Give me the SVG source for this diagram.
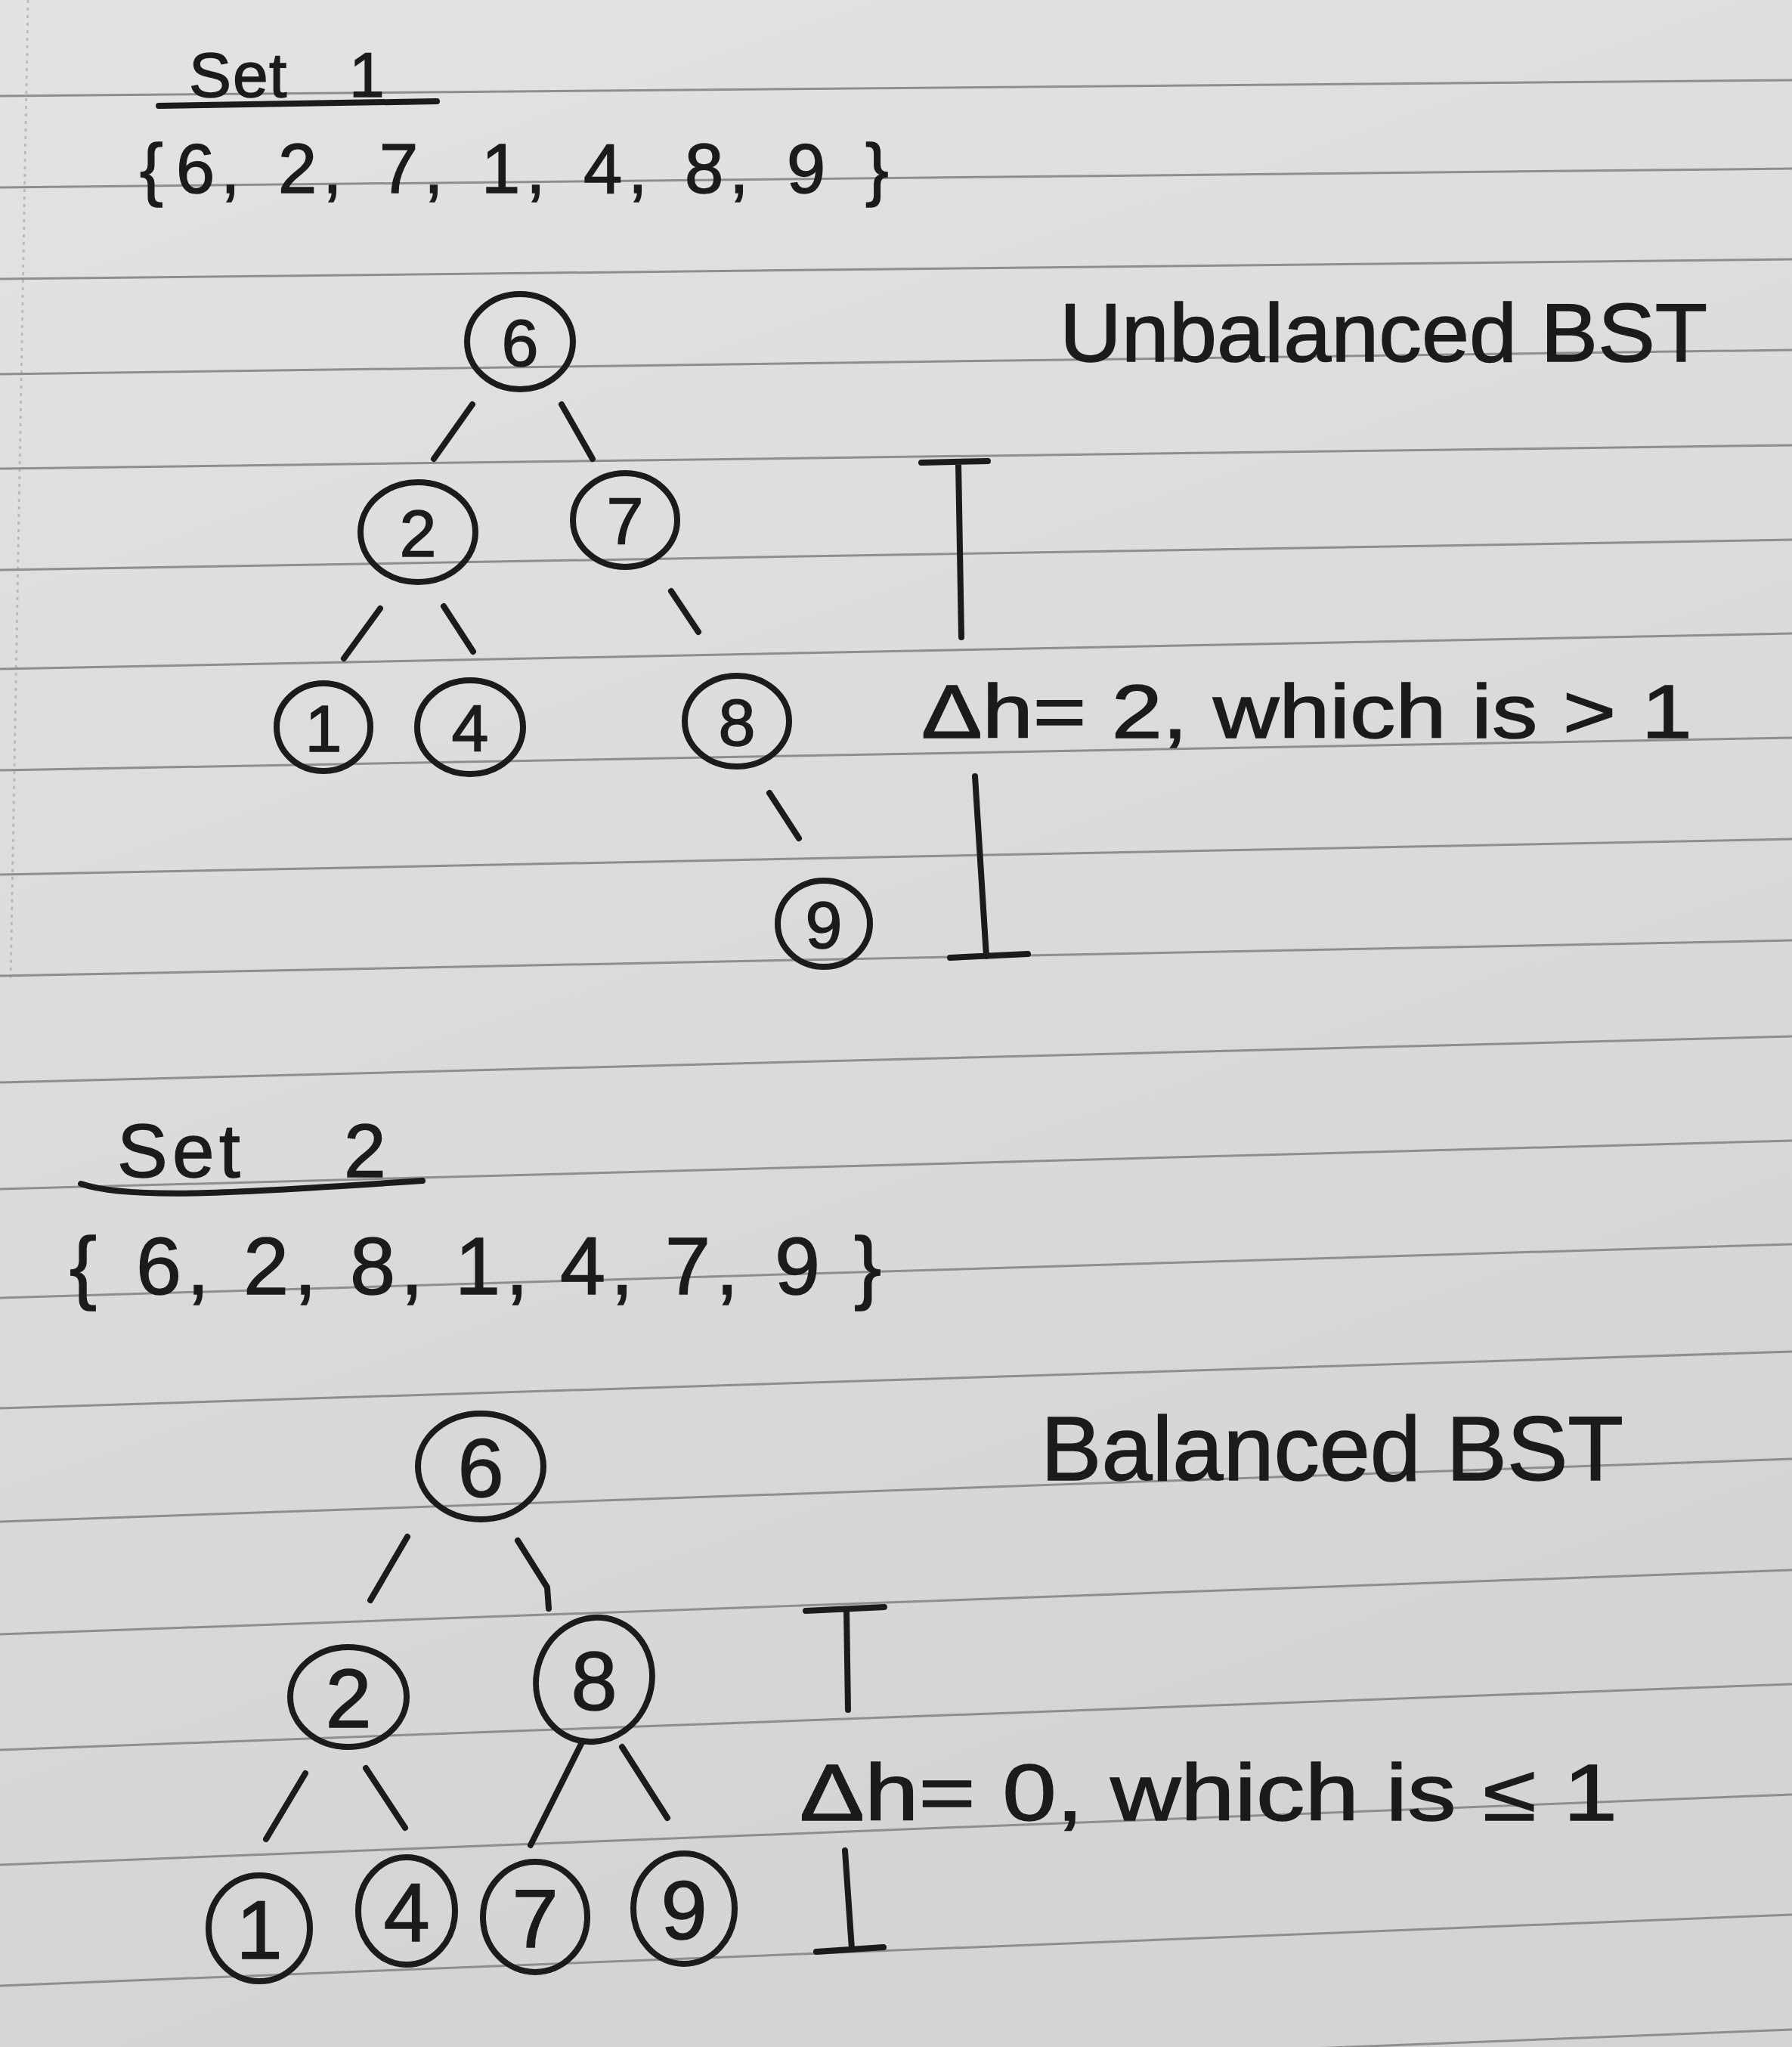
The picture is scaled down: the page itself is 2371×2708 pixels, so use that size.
<svg xmlns="http://www.w3.org/2000/svg" width="2371" height="2708" viewBox="0 0 2371 2708">
<defs>
<linearGradient id="paper" x1="0" y1="0" x2="0.3" y2="1">
<stop offset="0" stop-color="#e3e3e3"/>
<stop offset="1" stop-color="#d4d4d4"/>
</linearGradient>
<style>
.rule{stroke:#8e8e8e;stroke-width:3;fill:none}
.ink{stroke:#1b1b1b;stroke-width:8;stroke-linecap:round;stroke-linejoin:round;fill:none}
.node{stroke:#1b1b1b;stroke-width:8;fill:none}
.txt{font-family:"Liberation Sans",Arial,sans-serif;fill:#1b1b1b;stroke:#1b1b1b;stroke-width:1.5}
.d1{font-size:88px;text-anchor:middle}
.d2{font-size:110px;text-anchor:middle}
</style>
</defs>
<rect x="0" y="0" width="2371" height="2708" fill="url(#paper)"/>
<g id="paper-rules">
<line class="rule" x1="37" y1="0" x2="14" y2="1300" stroke-dasharray="4 6" opacity="0.45"/>
<line class="rule" x1="0" y1="127" x2="2371" y2="106"/>
<line class="rule" x1="0" y1="248" x2="2371" y2="223"/>
<line class="rule" x1="0" y1="369" x2="2371" y2="343"/>
<line class="rule" x1="0" y1="495" x2="2371" y2="463"/>
<line class="rule" x1="0" y1="620" x2="2371" y2="589"/>
<line class="rule" x1="0" y1="754" x2="2371" y2="714"/>
<line class="rule" x1="0" y1="885" x2="2371" y2="838"/>
<line class="rule" x1="0" y1="1019" x2="2371" y2="976"/>
<line class="rule" x1="0" y1="1157" x2="2371" y2="1110"/>
<line class="rule" x1="0" y1="1291" x2="2371" y2="1244"/>
<line class="rule" x1="0" y1="1432" x2="2371" y2="1371"/>
<line class="rule" x1="0" y1="1573" x2="2371" y2="1509"/>
<line class="rule" x1="0" y1="1717" x2="2371" y2="1646"/>
<line class="rule" x1="0" y1="1863" x2="2371" y2="1788"/>
<line class="rule" x1="0" y1="2013" x2="2371" y2="1930"/>
<line class="rule" x1="0" y1="2162" x2="2371" y2="2077"/>
<line class="rule" x1="0" y1="2315" x2="2371" y2="2228"/>
<line class="rule" x1="0" y1="2467" x2="2371" y2="2374"/>
<line class="rule" x1="0" y1="2627" x2="2371" y2="2533"/>
<line class="rule" x1="0" y1="2778" x2="2371" y2="2685"/>
</g>

<g id="labels">
<text class="txt" x="250 308 356 420 462" y="128" font-size="84">Set 1</text>
<path class="ink" d="M210,140 L578,134"/>
<text class="txt" x="185 233 292 368 427 502 561 637 696 772 831 906 965 1041 1145" y="255" font-size="92">{6,2,7,1,4,8,9}</text>
<text class="txt" x="1402" y="478" font-size="110" textLength="857" lengthAdjust="spacingAndGlyphs">Unbalanced BST</text>
<text class="txt" x="1219" y="976" font-size="100" textLength="1020" lengthAdjust="spacingAndGlyphs">Δh= 2, which is &gt; 1</text>
<text class="txt" x="155 228 290 380 455" y="1557" font-size="100">Set 2</text>
<path class="ink" d="M107,1566 C170,1588 320,1578 559,1562"/>
<text class="txt" x="92 180 247 322 389 463 530 602 669 741 808 880 947 1025 1130" y="1712" font-size="108">{6,2,8,1,4,7,9}</text>
<text class="txt" x="1377" y="1958" font-size="120" textLength="771" lengthAdjust="spacingAndGlyphs">Balanced BST</text>
<text class="txt" x="1058" y="2408" font-size="105" textLength="1082" lengthAdjust="spacingAndGlyphs">Δh= 0, which is ≤ 1</text>
</g>

<g id="height-brackets">
<path class="ink" d="M1219,612 L1307,610 M1268,612 L1272,843"/>
<path class="ink" d="M1290,1027 L1305,1265 M1257,1267 L1360,1262"/>
<path class="ink" d="M1066,2131 L1170,2126 M1120,2130 L1122,2262"/>
<path class="ink" d="M1118,2448 L1127,2578 M1080,2582 L1169,2576"/>
</g>

<g id="connectors">
<line class="ink" x1="625" y1="535" x2="574" y2="607"/>
<line class="ink" x1="743" y1="535" x2="784" y2="607"/>
<line class="ink" x1="503" y1="805" x2="455" y2="871"/>
<line class="ink" x1="587" y1="802" x2="626" y2="862"/>
<line class="ink" x1="888" y1="782" x2="924" y2="836"/>
<line class="ink" x1="1018" y1="1049" x2="1057" y2="1109"/>
<line class="ink" x1="539" y1="2033" x2="490" y2="2117"/>
<polyline class="ink" points="685,2038 724,2100 726,2128"/>
<line class="ink" x1="404" y1="2346" x2="352" y2="2433"/>
<line class="ink" x1="484" y1="2339" x2="536" y2="2418"/>
<line class="ink" x1="771" y1="2303" x2="702" y2="2441"/>
<line class="ink" x1="823" y1="2311" x2="883" y2="2405"/>
</g>

<g id="s1-n6"><ellipse class="node" cx="688" cy="452" rx="70" ry="63"/><text class="txt d1" x="688" y="484">6</text></g>
<g id="s1-n2"><ellipse class="node" cx="553" cy="704" rx="76" ry="66"/><text class="txt d1" x="553" y="736">2</text></g>
<g id="s1-n7"><ellipse class="node" cx="827" cy="688" rx="69" ry="62"/><text class="txt d1" x="827" y="720">7</text></g>
<g id="s1-n1"><ellipse class="node" cx="428" cy="962" rx="62" ry="58"/><text class="txt d1" x="428" y="994">1</text></g>
<g id="s1-n4"><ellipse class="node" cx="622" cy="962" rx="70" ry="62"/><text class="txt d1" x="622" y="994">4</text></g>
<g id="s1-n8"><ellipse class="node" cx="975" cy="954" rx="69" ry="60"/><text class="txt d1" x="975" y="986">8</text></g>
<g id="s1-n9"><ellipse class="node" cx="1090" cy="1222" rx="61" ry="57"/><text class="txt d1" x="1090" y="1254">9</text></g>

<g id="s2-n6"><ellipse class="node" cx="636" cy="1940" rx="83" ry="70"/><text class="txt d2" x="636" y="1980">6</text></g>
<g id="s2-n2"><ellipse class="node" cx="461" cy="2245" rx="77" ry="66"/><text class="txt d2" x="461" y="2285">2</text></g>
<g id="s2-n8"><ellipse class="node" cx="786" cy="2222" rx="76" ry="83" transform="rotate(20 786 2222)"/><text class="txt d2" x="786" y="2262">8</text></g>
<g id="s2-n1"><ellipse class="node" cx="343" cy="2551" rx="67" ry="70"/><text class="txt d2" x="343" y="2591">1</text></g>
<g id="s2-n4"><ellipse class="node" cx="538" cy="2528" rx="64" ry="71"/><text class="txt d2" x="538" y="2568">4</text></g>
<g id="s2-n7"><ellipse class="node" cx="708" cy="2536" rx="69" ry="73"/><text class="txt d2" x="708" y="2576">7</text></g>
<g id="s2-n9"><ellipse class="node" cx="905" cy="2525" rx="67" ry="73"/><text class="txt d2" x="905" y="2565">9</text></g>
</svg>
